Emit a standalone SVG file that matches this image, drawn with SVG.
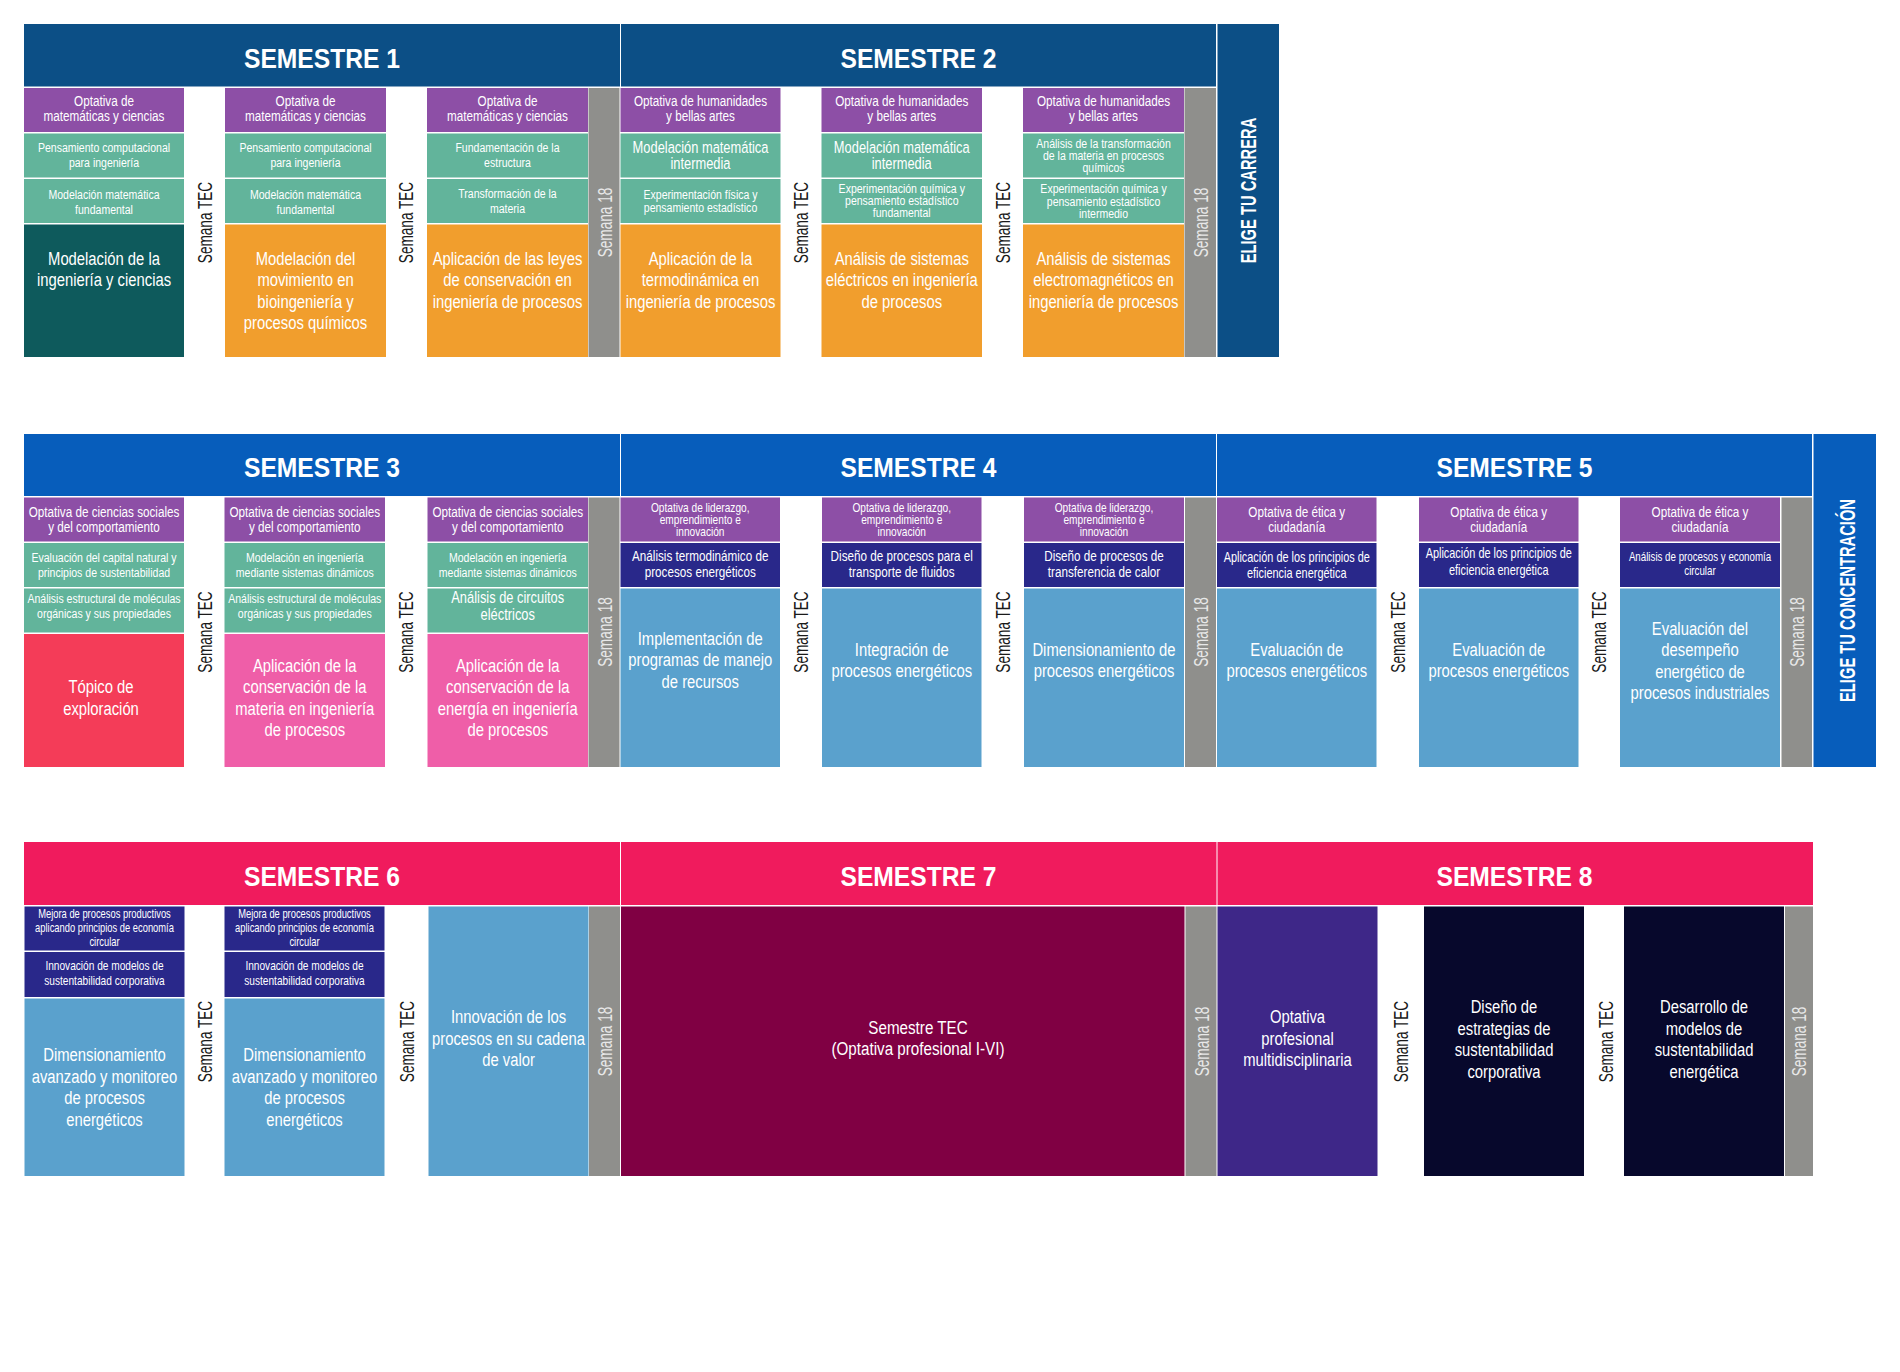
<svg xmlns="http://www.w3.org/2000/svg" width="1900" height="1372" viewBox="0 0 1900 1372">
<defs>
<style>
.b1{fill:#0c4f86}.b2{fill:#075dbb}.b3{fill:#f01b5d}
.pu{fill:#8d4fa6}.te{fill:#62b49b}.dt{fill:#0e5a5c}.or{fill:#f19e2d}.gr{fill:#8f8f8c}
.rd{fill:#f43c58}.pk{fill:#ef5ea8}.nv{fill:#29288a}.lb{fill:#5aa1cd}.mr{fill:#800043}.vp{fill:#3e2788}.dk{fill:#07082c}
text{font-family:"Liberation Sans",Arial,sans-serif}
.h{font-weight:bold;font-size:28px;fill:#fff;text-anchor:middle}
.t{fill:#fff;text-anchor:middle}
.f12{font-size:12px}.f125{font-size:12.5px}.f13{font-size:13px}.f135{font-size:13.5px}.f14{font-size:14px}.f15{font-size:15px}.f165{font-size:16.5px}.f19{font-size:19px}
.v{font-size:20px;text-anchor:middle;fill:#1a1a1a}
.v18{font-size:20px;text-anchor:middle;fill:#e8e8e8}
.el{font-weight:bold;font-size:22px;fill:#fff;text-anchor:middle}
</style>
</defs>
<rect width="1900" height="1372" fill="#fff"/>

<!-- ===================== ROW 1 ===================== -->
<g id="sem1">
<g id="s1-header"><rect class="b1" x="24" y="24" width="596" height="62.5"/><text class="h" transform="translate(322 0) scale(.88 1)" x="0" y="68">SEMESTRE 1</text></g>
<g id="s1-c1-a"><rect class="pu" x="24" y="88" width="160" height="44"/><text class="t f15" transform="translate(104 0) scale(.78 1)"><tspan x="0" y="106.5">Optativa de</tspan><tspan x="0" y="121.5">matemáticas y ciencias</tspan></text></g>
<g id="s1-c1-b"><rect class="te" x="24" y="133.5" width="160" height="44"/><text class="t f135" transform="translate(104 0) scale(.78 1)"><tspan x="0" y="151.7">Pensamiento computacional</tspan><tspan x="0" y="166.7">para ingeniería</tspan></text></g>
<g id="s1-c1-c"><rect class="te" x="24" y="179" width="160" height="44"/><text class="t f135" transform="translate(104 0) scale(.78 1)"><tspan x="0" y="199">Modelación matemática</tspan><tspan x="0" y="214.3">fundamental</tspan></text></g>
<g id="s1-c1-d"><rect class="dt" x="24" y="224.5" width="160" height="132.5"/><text class="t f19" transform="translate(104 0) scale(.78 1)"><tspan x="0" y="265">Modelación de la</tspan><tspan x="0" y="286.5">ingeniería y ciencias</tspan></text></g>
<g id="s1-tec1"><text class="v" transform="translate(211.5 222.5) rotate(-90) scale(.68 1)">Semana TEC</text></g>
<g id="s1-c2-a"><rect class="pu" x="225" y="88" width="161" height="44"/><text class="t f15" transform="translate(305.5 0) scale(.78 1)"><tspan x="0" y="106.5">Optativa de</tspan><tspan x="0" y="121.5">matemáticas y ciencias</tspan></text></g>
<g id="s1-c2-b"><rect class="te" x="225" y="133.5" width="161" height="44"/><text class="t f135" transform="translate(305.5 0) scale(.78 1)"><tspan x="0" y="151.7">Pensamiento computacional</tspan><tspan x="0" y="166.7">para ingeniería</tspan></text></g>
<g id="s1-c2-c"><rect class="te" x="225" y="179" width="161" height="44"/><text class="t f135" transform="translate(305.5 0) scale(.78 1)"><tspan x="0" y="199">Modelación matemática</tspan><tspan x="0" y="214.3">fundamental</tspan></text></g>
<g id="s1-c2-d"><rect class="or" x="225" y="224.5" width="161" height="132.5"/><text class="t f19" transform="translate(305.5 0) scale(.78 1)"><tspan x="0" y="265">Modelación del</tspan><tspan x="0" y="286.5">movimiento en</tspan><tspan x="0" y="308">bioingeniería y</tspan><tspan x="0" y="329.5">procesos químicos</tspan></text></g>
<g id="s1-tec2"><text class="v" transform="translate(413 222.5) rotate(-90) scale(.68 1)">Semana TEC</text></g>
<g id="s1-c3-a"><rect class="pu" x="427" y="88" width="161" height="44"/><text class="t f15" transform="translate(507.5 0) scale(.78 1)"><tspan x="0" y="106.5">Optativa de</tspan><tspan x="0" y="121.5">matemáticas y ciencias</tspan></text></g>
<g id="s1-c3-b"><rect class="te" x="427" y="133.5" width="161" height="44"/><text class="t f135" transform="translate(507.5 0) scale(.78 1)"><tspan x="0" y="151.7">Fundamentación de la</tspan><tspan x="0" y="166.7">estructura</tspan></text></g>
<g id="s1-c3-c"><rect class="te" x="427" y="179" width="161" height="44"/><text class="t f135" transform="translate(507.5 0) scale(.78 1)"><tspan x="0" y="198.5">Transformación de la</tspan><tspan x="0" y="213.5">materia</tspan></text></g>
<g id="s1-c3-d"><rect class="or" x="427" y="224.5" width="161" height="132.5"/><text class="t f19" transform="translate(507.5 0) scale(.78 1)"><tspan x="0" y="265">Aplicación de las leyes</tspan><tspan x="0" y="286.5">de conservación en</tspan><tspan x="0" y="308">ingeniería de procesos</tspan></text></g>
<g id="s1-s18"><rect class="gr" x="588.5" y="88" width="31" height="269"/><text class="v18" transform="translate(611.5 222.5) rotate(-90) scale(.68 1)">Semana 18</text></g>
</g>

<g id="sem2">
<g id="s2-header"><rect class="b1" x="621" y="24" width="595" height="62.5"/><text class="h" transform="translate(918.5 0) scale(.88 1)" x="0" y="68">SEMESTRE 2</text></g>
<g id="s2-c1-a"><rect class="pu" x="620.5" y="88" width="160" height="44"/><text class="t f15" transform="translate(700.5 0) scale(.78 1)"><tspan x="0" y="106.5">Optativa de humanidades</tspan><tspan x="0" y="121.5">y bellas artes</tspan></text></g>
<g id="s2-c1-b"><rect class="te" x="620.5" y="133.5" width="160" height="44"/><text class="t f165" transform="translate(700.5 0) scale(.78 1)"><tspan x="0" y="153.3">Modelación matemática</tspan><tspan x="0" y="168.8">intermedia</tspan></text></g>
<g id="s2-c1-c"><rect class="te" x="620.5" y="179" width="160" height="44"/><text class="t f135" transform="translate(700.5 0) scale(.78 1)"><tspan x="0" y="199">Experimentación física y</tspan><tspan x="0" y="211.7">pensamiento estadístico</tspan></text></g>
<g id="s2-c1-d"><rect class="or" x="620.5" y="224.5" width="160" height="132.5"/><text class="t f19" transform="translate(700.5 0) scale(.78 1)"><tspan x="0" y="265">Aplicación de la</tspan><tspan x="0" y="286.5">termodinámica en</tspan><tspan x="0" y="308">ingeniería de procesos</tspan></text></g>
<g id="s2-tec1"><text class="v" transform="translate(808 222.5) rotate(-90) scale(.68 1)">Semana TEC</text></g>
<g id="s2-c2-a"><rect class="pu" x="821.5" y="88" width="160.5" height="44"/><text class="t f15" transform="translate(901.75 0) scale(.78 1)"><tspan x="0" y="106.5">Optativa de humanidades</tspan><tspan x="0" y="121.5">y bellas artes</tspan></text></g>
<g id="s2-c2-b"><rect class="te" x="821.5" y="133.5" width="160.5" height="44"/><text class="t f165" transform="translate(901.75 0) scale(.78 1)"><tspan x="0" y="153.3">Modelación matemática</tspan><tspan x="0" y="168.8">intermedia</tspan></text></g>
<g id="s2-c2-c"><rect class="te" x="821.5" y="179" width="160.5" height="44"/><text class="t f135" transform="translate(901.75 0) scale(.78 1)"><tspan x="0" y="192.7">Experimentación química y</tspan><tspan x="0" y="205">pensamiento estadístico</tspan><tspan x="0" y="217.3">fundamental</tspan></text></g>
<g id="s2-c2-d"><rect class="or" x="821.5" y="224.5" width="160.5" height="132.5"/><text class="t f19" transform="translate(901.75 0) scale(.78 1)"><tspan x="0" y="265">Análisis de sistemas</tspan><tspan x="0" y="286.5">eléctricos en ingeniería</tspan><tspan x="0" y="308">de procesos</tspan></text></g>
<g id="s2-tec2"><text class="v" transform="translate(1009.5 222.5) rotate(-90) scale(.68 1)">Semana TEC</text></g>
<g id="s2-c3-a"><rect class="pu" x="1023" y="88" width="161" height="44"/><text class="t f15" transform="translate(1103.5 0) scale(.78 1)"><tspan x="0" y="106.5">Optativa de humanidades</tspan><tspan x="0" y="121.5">y bellas artes</tspan></text></g>
<g id="s2-c3-b"><rect class="te" x="1023" y="133.5" width="161" height="44"/><text class="t f135" transform="translate(1103.5 0) scale(.78 1)"><tspan x="0" y="147.7">Análisis de la transformación</tspan><tspan x="0" y="160">de la materia en procesos</tspan><tspan x="0" y="172.3">químicos</tspan></text></g>
<g id="s2-c3-c"><rect class="te" x="1023" y="179" width="161" height="44"/><text class="t f135" transform="translate(1103.5 0) scale(.78 1)"><tspan x="0" y="193.5">Experimentación química y</tspan><tspan x="0" y="205.8">pensamiento estadístico</tspan><tspan x="0" y="218">intermedio</tspan></text></g>
<g id="s2-c3-d"><rect class="or" x="1023" y="224.5" width="161" height="132.5"/><text class="t f19" transform="translate(1103.5 0) scale(.78 1)"><tspan x="0" y="265">Análisis de sistemas</tspan><tspan x="0" y="286.5">electromagnéticos en</tspan><tspan x="0" y="308">ingeniería de procesos</tspan></text></g>
<g id="s2-s18"><rect class="gr" x="1184.5" y="88" width="31.5" height="269"/><text class="v18" transform="translate(1207.5 222.5) rotate(-90) scale(.68 1)">Semana 18</text></g>
</g>
<g id="elige-carrera"><rect class="b1" x="1217.5" y="24" width="61.5" height="333"/><text class="el" transform="translate(1256 190.5) rotate(-90) scale(.67 1)">ELIGE TU CARRERA</text></g>

<!-- ===================== ROW 2 ===================== -->
<g id="sem3">
<g id="s3-header"><rect class="b2" x="24" y="434" width="596" height="62"/><text class="h" transform="translate(322 0) scale(.88 1)" x="0" y="477.5">SEMESTRE 3</text></g>
<g id="s3-c1-a"><rect class="pu" x="24" y="497.5" width="160" height="44"/><text class="t f15" transform="translate(104 0) scale(.78 1)"><tspan x="0" y="516.7">Optativa de ciencias sociales</tspan><tspan x="0" y="531.7">y del comportamiento</tspan></text></g>
<g id="s3-c1-b"><rect class="te" x="24" y="543" width="160" height="44"/><text class="t f135" transform="translate(104 0) scale(.78 1)"><tspan x="0" y="561.7">Evaluación del capital natural y</tspan><tspan x="0" y="576.7">principios de sustentabilidad</tspan></text></g>
<g id="s3-c1-c"><rect class="te" x="24" y="588.5" width="160" height="44"/><text class="t f135" transform="translate(104 0) scale(.78 1)"><tspan x="0" y="603.3">Análisis estructural de moléculas</tspan><tspan x="0" y="618.3">orgánicas y sus propiedades</tspan></text></g>
<g id="s3-c1-d"><rect class="rd" x="24" y="634" width="160" height="133"/><text class="t f19" transform="translate(101 0) scale(.78 1)"><tspan x="0" y="693.3">Tópico de</tspan><tspan x="0" y="714.8">exploración</tspan></text></g>
<g id="s3-tec1"><text class="v" transform="translate(211.5 632) rotate(-90) scale(.68 1)">Semana TEC</text></g>
<g id="s3-c2-a"><rect class="pu" x="224.5" y="497.5" width="160.5" height="44"/><text class="t f15" transform="translate(304.75 0) scale(.78 1)"><tspan x="0" y="516.7">Optativa de ciencias sociales</tspan><tspan x="0" y="531.7">y del comportamiento</tspan></text></g>
<g id="s3-c2-b"><rect class="te" x="224.5" y="543" width="160.5" height="44"/><text class="t f135" transform="translate(304.75 0) scale(.78 1)"><tspan x="0" y="561.7">Modelación en ingeniería</tspan><tspan x="0" y="576.7">mediante sistemas dinámicos</tspan></text></g>
<g id="s3-c2-c"><rect class="te" x="224.5" y="588.5" width="160.5" height="44"/><text class="t f135" transform="translate(304.75 0) scale(.78 1)"><tspan x="0" y="603.3">Análisis estructural de moléculas</tspan><tspan x="0" y="618.3">orgánicas y sus propiedades</tspan></text></g>
<g id="s3-c2-d"><rect class="pk" x="224.5" y="634" width="160.5" height="133"/><text class="t f19" transform="translate(304.75 0) scale(.78 1)"><tspan x="0" y="671.7">Aplicación de la</tspan><tspan x="0" y="693.2">conservación de la</tspan><tspan x="0" y="714.7">materia en ingeniería</tspan><tspan x="0" y="736.2">de procesos</tspan></text></g>
<g id="s3-tec2"><text class="v" transform="translate(413 632) rotate(-90) scale(.68 1)">Semana TEC</text></g>
<g id="s3-c3-a"><rect class="pu" x="427.5" y="497.5" width="160.5" height="44"/><text class="t f15" transform="translate(507.75 0) scale(.78 1)"><tspan x="0" y="516.7">Optativa de ciencias sociales</tspan><tspan x="0" y="531.7">y del comportamiento</tspan></text></g>
<g id="s3-c3-b"><rect class="te" x="427.5" y="543" width="160.5" height="44"/><text class="t f135" transform="translate(507.75 0) scale(.78 1)"><tspan x="0" y="561.7">Modelación en ingeniería</tspan><tspan x="0" y="576.7">mediante sistemas dinámicos</tspan></text></g>
<g id="s3-c3-c"><rect class="te" x="427.5" y="588.5" width="160.5" height="44"/><text class="t f165" transform="translate(507.75 0) scale(.78 1)"><tspan x="0" y="603">Análisis de circuitos</tspan><tspan x="0" y="620">eléctricos</tspan></text></g>
<g id="s3-c3-d"><rect class="pk" x="427.5" y="634" width="160.5" height="133"/><text class="t f19" transform="translate(507.75 0) scale(.78 1)"><tspan x="0" y="671.7">Aplicación de la</tspan><tspan x="0" y="693.2">conservación de la</tspan><tspan x="0" y="714.7">energía en ingeniería</tspan><tspan x="0" y="736.2">de procesos</tspan></text></g>
<g id="s3-s18"><rect class="gr" x="588.5" y="497.5" width="31" height="269.5"/><text class="v18" transform="translate(611.5 632) rotate(-90) scale(.68 1)">Semana 18</text></g>
</g>

<g id="sem4">
<g id="s4-header"><rect class="b2" x="621" y="434" width="595" height="62"/><text class="h" transform="translate(918.5 0) scale(.88 1)" x="0" y="477.5">SEMESTRE 4</text></g>
<g id="s4-c1-a"><rect class="pu" x="620.5" y="497.5" width="159.5" height="44"/><text class="t f13" transform="translate(700.25 0) scale(.78 1)"><tspan x="0" y="511.7">Optativa de liderazgo,</tspan><tspan x="0" y="524">emprendimiento e</tspan><tspan x="0" y="536.3">innovación</tspan></text></g>
<g id="s4-c1-b"><rect class="nv" x="620.5" y="543" width="159.5" height="44"/><text class="t f15" transform="translate(700.25 0) scale(.78 1)"><tspan x="0" y="561">Análisis termodinámico de</tspan><tspan x="0" y="577.5">procesos energéticos</tspan></text></g>
<g id="s4-c1-c"><rect class="lb" x="620.5" y="588.5" width="159.5" height="178.5"/><text class="t f19" transform="translate(700.25 0) scale(.78 1)"><tspan x="0" y="645">Implementación de</tspan><tspan x="0" y="666.5">programas de manejo</tspan><tspan x="0" y="688">de recursos</tspan></text></g>
<g id="s4-tec1"><text class="v" transform="translate(808 632) rotate(-90) scale(.68 1)">Semana TEC</text></g>
<g id="s4-c2-a"><rect class="pu" x="822" y="497.5" width="159.5" height="44"/><text class="t f13" transform="translate(901.75 0) scale(.78 1)"><tspan x="0" y="511.7">Optativa de liderazgo,</tspan><tspan x="0" y="524">emprendimiento e</tspan><tspan x="0" y="536.3">innovación</tspan></text></g>
<g id="s4-c2-b"><rect class="nv" x="822" y="543" width="159.5" height="44"/><text class="t f15" transform="translate(901.75 0) scale(.78 1)"><tspan x="0" y="561">Diseño de procesos para el</tspan><tspan x="0" y="577.5">transporte de fluidos</tspan></text></g>
<g id="s4-c2-c"><rect class="lb" x="822" y="588.5" width="159.5" height="178.5"/><text class="t f19" transform="translate(901.75 0) scale(.78 1)"><tspan x="0" y="656">Integración de</tspan><tspan x="0" y="677.5">procesos energéticos</tspan></text></g>
<g id="s4-tec2"><text class="v" transform="translate(1010 632) rotate(-90) scale(.68 1)">Semana TEC</text></g>
<g id="s4-c3-a"><rect class="pu" x="1024" y="497.5" width="160" height="44"/><text class="t f13" transform="translate(1104 0) scale(.78 1)"><tspan x="0" y="511.7">Optativa de liderazgo,</tspan><tspan x="0" y="524">emprendimiento e</tspan><tspan x="0" y="536.3">innovación</tspan></text></g>
<g id="s4-c3-b"><rect class="nv" x="1024" y="543" width="160" height="44"/><text class="t f15" transform="translate(1104 0) scale(.78 1)"><tspan x="0" y="561">Diseño de procesos de</tspan><tspan x="0" y="577.5">transferencia de calor</tspan></text></g>
<g id="s4-c3-c"><rect class="lb" x="1024" y="588.5" width="160" height="178.5"/><text class="t f19" transform="translate(1104 0) scale(.78 1)"><tspan x="0" y="656">Dimensionamiento de</tspan><tspan x="0" y="677.5">procesos energéticos</tspan></text></g>
<g id="s4-s18"><rect class="gr" x="1185" y="497.5" width="31" height="269.5"/><text class="v18" transform="translate(1208 632) rotate(-90) scale(.68 1)">Semana 18</text></g>
</g>

<g id="sem5">
<g id="s5-header"><rect class="b2" x="1217" y="434" width="595" height="62"/><text class="h" transform="translate(1514.5 0) scale(.88 1)" x="0" y="477.5">SEMESTRE 5</text></g>
<g id="s5-c1-a"><rect class="pu" x="1217" y="497.5" width="159.5" height="44"/><text class="t f15" transform="translate(1296.75 0) scale(.78 1)"><tspan x="0" y="517">Optativa de ética y</tspan><tspan x="0" y="532">ciudadanía</tspan></text></g>
<g id="s5-c1-b"><rect class="nv" x="1217" y="543" width="159.5" height="44"/><text class="t f14" transform="translate(1296.75 0) scale(.78 1)"><tspan x="0" y="562">Aplicación de los principios de</tspan><tspan x="0" y="578">eficiencia energética</tspan></text></g>
<g id="s5-c1-c"><rect class="lb" x="1217" y="588.5" width="159.5" height="178.5"/><text class="t f19" transform="translate(1296.75 0) scale(.78 1)"><tspan x="0" y="656">Evaluación de</tspan><tspan x="0" y="677.5">procesos energéticos</tspan></text></g>
<g id="s5-tec1"><text class="v" transform="translate(1404.5 632) rotate(-90) scale(.68 1)">Semana TEC</text></g>
<g id="s5-c2-a"><rect class="pu" x="1419" y="497.5" width="159.5" height="44"/><text class="t f15" transform="translate(1498.75 0) scale(.78 1)"><tspan x="0" y="517">Optativa de ética y</tspan><tspan x="0" y="532">ciudadanía</tspan></text></g>
<g id="s5-c2-b"><rect class="nv" x="1419" y="543" width="159.5" height="44"/><text class="t f14" transform="translate(1498.75 0) scale(.78 1)"><tspan x="0" y="558.5">Aplicación de los principios de</tspan><tspan x="0" y="575">eficiencia energética</tspan></text></g>
<g id="s5-c2-c"><rect class="lb" x="1419" y="588.5" width="159.5" height="178.5"/><text class="t f19" transform="translate(1498.75 0) scale(.78 1)"><tspan x="0" y="656">Evaluación de</tspan><tspan x="0" y="677.5">procesos energéticos</tspan></text></g>
<g id="s5-tec2"><text class="v" transform="translate(1606 632) rotate(-90) scale(.68 1)">Semana TEC</text></g>
<g id="s5-c3-a"><rect class="pu" x="1620" y="497.5" width="160" height="44"/><text class="t f15" transform="translate(1700 0) scale(.78 1)"><tspan x="0" y="517">Optativa de ética y</tspan><tspan x="0" y="532">ciudadanía</tspan></text></g>
<g id="s5-c3-b"><rect class="nv" x="1620" y="543" width="160" height="44"/><text class="t f125" transform="translate(1700 0) scale(.78 1)"><tspan x="0" y="561">Análisis de procesos y economía</tspan><tspan x="0" y="575.5">circular</tspan></text></g>
<g id="s5-c3-c"><rect class="lb" x="1620" y="588.5" width="160" height="178.5"/><text class="t f19" transform="translate(1700 0) scale(.78 1)"><tspan x="0" y="635">Evaluación del</tspan><tspan x="0" y="656.5">desempeño</tspan><tspan x="0" y="678">energético de</tspan><tspan x="0" y="699.5">procesos industriales</tspan></text></g>
<g id="s5-s18"><rect class="gr" x="1781.5" y="497.5" width="30.5" height="269.5"/><text class="v18" transform="translate(1804 632) rotate(-90) scale(.68 1)">Semana 18</text></g>
</g>
<g id="elige-concentracion"><rect class="b2" x="1813.5" y="434" width="62.5" height="333"/><text class="el" transform="translate(1855 600.5) rotate(-90) scale(.67 1)">ELIGE TU CONCENTRACIÓN</text></g>

<!-- ===================== ROW 3 ===================== -->
<g id="sem6">
<g id="s6-header"><rect class="b3" x="24" y="842" width="596" height="63"/><text class="h" transform="translate(322 0) scale(.88 1)" x="0" y="886.5">SEMESTRE 6</text></g>
<g id="s6-c1-a"><rect class="nv" x="24.5" y="906.5" width="160" height="44"/><text class="t f12" transform="translate(104.5 0) scale(.78 1)"><tspan x="0" y="918.3">Mejora de procesos productivos</tspan><tspan x="0" y="932.3">aplicando principios de economía</tspan><tspan x="0" y="946.3">circular</tspan></text></g>
<g id="s6-c1-b"><rect class="nv" x="24.5" y="952" width="160" height="45"/><text class="t f13" transform="translate(104.5 0) scale(.78 1)"><tspan x="0" y="970">Innovación de modelos de</tspan><tspan x="0" y="985.5">sustentabilidad corporativa</tspan></text></g>
<g id="s6-c1-c"><rect class="lb" x="24.5" y="998.5" width="160" height="177.5"/><text class="t f19" transform="translate(104.5 0) scale(.78 1)"><tspan x="0" y="1061.5">Dimensionamiento</tspan><tspan x="0" y="1083">avanzado y monitoreo</tspan><tspan x="0" y="1104.5">de procesos</tspan><tspan x="0" y="1126">energéticos</tspan></text></g>
<g id="s6-tec1"><text class="v" transform="translate(211.5 1041.5) rotate(-90) scale(.68 1)">Semana TEC</text></g>
<g id="s6-c2-a"><rect class="nv" x="224.5" y="906.5" width="160" height="44"/><text class="t f12" transform="translate(304.5 0) scale(.78 1)"><tspan x="0" y="918.3">Mejora de procesos productivos</tspan><tspan x="0" y="932.3">aplicando principios de economía</tspan><tspan x="0" y="946.3">circular</tspan></text></g>
<g id="s6-c2-b"><rect class="nv" x="224.5" y="952" width="160" height="45"/><text class="t f13" transform="translate(304.5 0) scale(.78 1)"><tspan x="0" y="970">Innovación de modelos de</tspan><tspan x="0" y="985.5">sustentabilidad corporativa</tspan></text></g>
<g id="s6-c2-c"><rect class="lb" x="224.5" y="998.5" width="160" height="177.5"/><text class="t f19" transform="translate(304.5 0) scale(.78 1)"><tspan x="0" y="1061.5">Dimensionamiento</tspan><tspan x="0" y="1083">avanzado y monitoreo</tspan><tspan x="0" y="1104.5">de procesos</tspan><tspan x="0" y="1126">energéticos</tspan></text></g>
<g id="s6-tec2"><text class="v" transform="translate(413.5 1041.5) rotate(-90) scale(.68 1)">Semana TEC</text></g>
<g id="s6-c3"><rect class="lb" x="428.5" y="906.5" width="160" height="269.5"/><text class="t f19" transform="translate(508.5 0) scale(.78 1)"><tspan x="0" y="1023.3">Innovación de los</tspan><tspan x="0" y="1044.8">procesos en su cadena</tspan><tspan x="0" y="1066.3">de valor</tspan></text></g>
<g id="s6-s18"><rect class="gr" x="589" y="906.5" width="31" height="269.5"/><text class="v18" transform="translate(612 1041.5) rotate(-90) scale(.68 1)">Semana 18</text></g>
</g>

<g id="sem7">
<g id="s7-header"><rect class="b3" x="621" y="842" width="595.5" height="63"/><text class="h" transform="translate(918.5 0) scale(.88 1)" x="0" y="886.5">SEMESTRE 7</text></g>
<g id="s7-tec"><rect class="mr" x="621" y="906.5" width="563.5" height="269.5"/><text class="t f19" transform="translate(918 0) scale(.8 1)"><tspan x="0" y="1034">Semestre TEC</tspan><tspan x="0" y="1055.5">(Optativa profesional I-VI)</tspan></text></g>
<g id="s7-s18"><rect class="gr" x="1185.5" y="906.5" width="31" height="269.5"/><text class="v18" transform="translate(1208.5 1041.5) rotate(-90) scale(.68 1)">Semana 18</text></g>
</g>

<g id="sem8">
<g id="s8-header"><rect class="b3" x="1217.5" y="842" width="595.5" height="63"/><text class="h" transform="translate(1514.5 0) scale(.88 1)" x="0" y="886.5">SEMESTRE 8</text></g>
<g id="s8-c1"><rect class="vp" x="1217.5" y="906.5" width="160" height="269.5"/><text class="t f19" transform="translate(1297.5 0) scale(.78 1)"><tspan x="0" y="1023.3">Optativa</tspan><tspan x="0" y="1044.8">profesional</tspan><tspan x="0" y="1066.3">multidisciplinaria</tspan></text></g>
<g id="s8-tec1"><text class="v" transform="translate(1407.5 1041.5) rotate(-90) scale(.68 1)">Semana TEC</text></g>
<g id="s8-c2"><rect class="dk" x="1424" y="906.5" width="160" height="269.5"/><text class="t f19" transform="translate(1504 0) scale(.78 1)"><tspan x="0" y="1013.3">Diseño de</tspan><tspan x="0" y="1034.8">estrategias de</tspan><tspan x="0" y="1056.3">sustentabilidad</tspan><tspan x="0" y="1077.8">corporativa</tspan></text></g>
<g id="s8-tec2"><text class="v" transform="translate(1613 1041.5) rotate(-90) scale(.68 1)">Semana TEC</text></g>
<g id="s8-c3"><rect class="dk" x="1624" y="906.5" width="160" height="269.5"/><text class="t f19" transform="translate(1704 0) scale(.78 1)"><tspan x="0" y="1013.3">Desarrollo de</tspan><tspan x="0" y="1034.8">modelos de</tspan><tspan x="0" y="1056.3">sustentabilidad</tspan><tspan x="0" y="1077.8">energética</tspan></text></g>
<g id="s8-s18"><rect class="gr" x="1785" y="906.5" width="28" height="269.5"/><text class="v18" transform="translate(1806 1041.5) rotate(-90) scale(.68 1)">Semana 18</text></g>
</g>

<g id="connectors"></g>
</svg>
